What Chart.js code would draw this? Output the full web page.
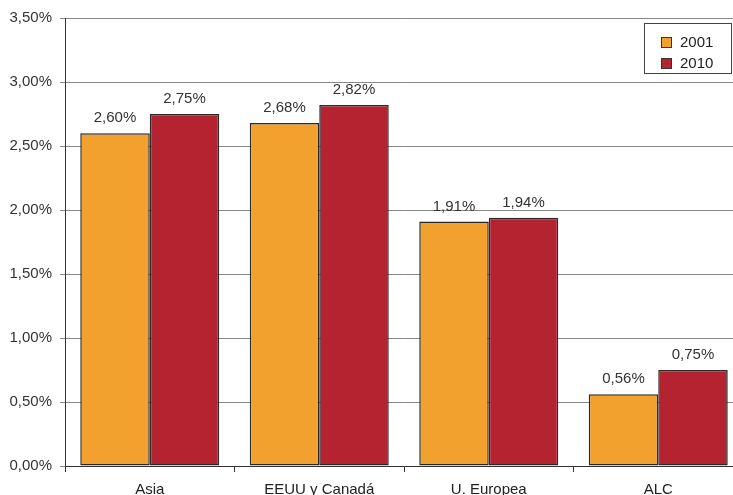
<!DOCTYPE html>
<html>
<head>
<meta charset="utf-8">
<script src="https://cdn.jsdelivr.net/npm/chart.js@4"></script>
<style>
  html, body { margin: 0; padding: 0; background: #fff; overflow: hidden; }
  #wrap { width: 745px; height: 495px; }
</style>
</head>
<body>
<div id="wrap"><canvas id="myChart" width="745" height="495"></canvas></div>
<script>
const categories = ["Asia", "EEUU y Canadá", "U. Europea", "ALC"];
const years = ["2001", "2010"];
const values2001 = [2.60, 2.68, 1.91, 0.56];
const values2010 = [2.75, 2.82, 1.94, 0.75];
const yTicks = [0, 0.5, 1, 1.5, 2, 2.5, 3, 3.5];

const colors = ["#F2A12E", "#B52230"];
const font = "Liberation Sans, Arial, sans-serif";

const fmt = (v) => v.toFixed(2).replace(".", ",") + "%";

// labels above each bar
const barLabels = {
    id: "barLabels",
    afterDatasetsDraw(chart) {
        const ctx = chart.ctx;
        ctx.save();
        ctx.font = "15px " + font;
        ctx.fillStyle = "#333";
        ctx.textAlign = "center";
        ctx.textBaseline = "alphabetic";
        chart.data.datasets.forEach((ds, i) => {
            chart.getDatasetMeta(i).data.forEach((bar, j) => {
                ctx.fillText(fmt(ds.data[j]), bar.x, bar.y - 11);
            });
        });
        ctx.restore();
    }
};

// boxed legend, top right
const boxLegend = {
    id: "boxLegend",
    afterDraw(chart) {
        const ctx = chart.ctx;
        const x = 644, y = 23, w = 87, h = 50;
        ctx.save();
        ctx.fillStyle = "#fff";
        ctx.fillRect(x, y, w, h);
        ctx.strokeStyle = "#444";
        ctx.lineWidth = 1;
        ctx.strokeRect(x + 0.5, y + 0.5, w, h);
        ctx.font = "15px " + font;
        ctx.textBaseline = "middle";
        chart.data.datasets.forEach((ds, i) => {
            const cy = y + 19 + i * 21;
            ctx.fillStyle = ds.backgroundColor;
            ctx.fillRect(x + 17, cy - 5, 10, 10);
            ctx.strokeStyle = "#333";
            ctx.strokeRect(x + 17.5, cy - 4.5, 10, 10);
            ctx.fillStyle = "#222";
            ctx.fillText(ds.label, x + 36, cy + 1);
        });
        ctx.restore();
    }
};

const barStyle = { borderColor: "#2a2a2a", borderWidth: 1.5, borderSkipped: false };

new Chart(document.getElementById("myChart"), {
    type: "bar",
    data: {
        labels: categories,
        datasets: [
            { label: years[0], data: values2001, backgroundColor: colors[0], ...barStyle },
            { label: years[1], data: values2010, backgroundColor: colors[1], ...barStyle }
        ]
    },
    options: {
        responsive: false,
        animation: false,
        layout: { padding: { top: 18, right: 2, left: 0, bottom: 0 } },
        plugins: { legend: { display: false }, tooltip: { enabled: false } },
        datasets: { bar: { categoryPercentage: 0.82, barPercentage: 1 } },
        scales: {
            x: {
                grid: { drawOnChartArea: false, drawTicks: true, tickLength: 6, color: "#333", offset: true },
                border: { color: "#333", width: 1 },
                ticks: { color: "#222", font: { family: font, size: 15 }, padding: 9 },
                afterFit(scale) { scale.height = 29; }
            },
            y: {
                min: 0,
                max: 3.5,
                afterBuildTicks(scale) { scale.ticks = yTicks.map(v => ({ value: v })); },
                grid: { color: "#888", lineWidth: 1, tickLength: 5 },
                border: { color: "#333", width: 1 },
                ticks: { color: "#333", font: { family: font, size: 15 }, padding: 8, callback: (v) => fmt(v) },
                afterFit(scale) { scale.width = 65; }
            }
        }
    },
    plugins: [barLabels, boxLegend]
});
</script>
</body>
</html>
